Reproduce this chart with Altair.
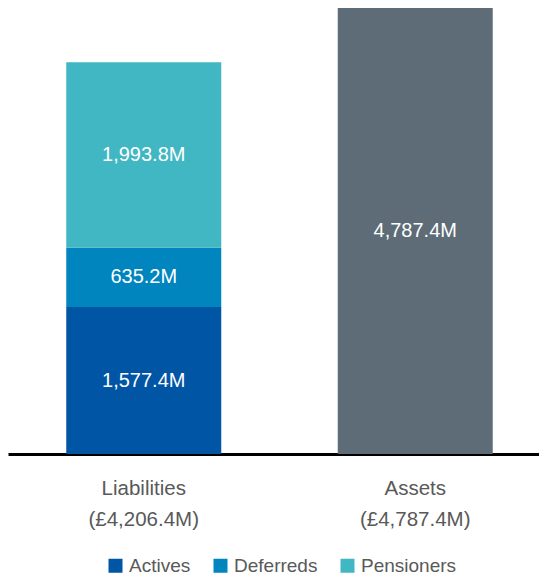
import altair as alt
import pandas as pd

categories = ["Liabilities", "Liabilities", "Liabilities", "Assets"]
series = ["Actives", "Deferreds", "Pensioners", "Assets"]
values = [1577.4, 635.2, 1993.8, 4787.4]
value_labels = ["1,577.4M", "635.2M", "1,993.8M", "4,787.4M"]
stack_order = [1, 2, 3, 1]

bar_names = ["Liabilities", "Assets"]
bar_totals = ["(£4,206.4M)", "(£4,787.4M)"]

legend_series = ["Actives", "Deferreds", "Pensioners"]
color_domain = ["Actives", "Deferreds", "Pensioners", "Assets"]
color_range = ["#0055A5", "#0085BF", "#40B7C2", "#5D6C76"]

total_map = dict(zip(bar_names, bar_totals))
df = pd.DataFrame({
    "category": categories,
    "series": series,
    "value": values,
    "label": value_labels,
    "order": stack_order,
})
df["cat_label"] = [c + "\n" + total_map[c] for c in df["category"]]
cat_sort = [c + "\n" + total_map[c] for c in bar_names]

FONT = "Liberation Sans"

xscale = alt.Scale(paddingInner=0.4291, paddingOuter=0.2146, range=[0, 543])

x_enc = alt.X(
    "cat_label:N",
    sort=cat_sort,
    scale=xscale,
    axis=alt.Axis(
        title=None,
        labelAngle=0,
        ticks=False,
        domainColor="#000000",
        domainWidth=3,
        labelColor="#595959",
        labelFont=FONT,
        labelFontSize=20.5,
        labelLineHeight=31,
        labelPadding=24,
        labelExpr="split(datum.label, '\\n')",
    ),
)

base = alt.Chart(df).transform_stack(
    stack="value",
    groupby=["category"],
    as_=["y0", "y1"],
    sort=[alt.SortField("order", order="ascending")],
).transform_calculate(mid="(datum.y0 + datum.y1) / 2")

yscale = alt.Scale(domain=[0, 4787.4], nice=False, zero=True)

bars = base.mark_bar().encode(
    x=x_enc,
    y=alt.Y("y0:Q", scale=yscale, axis=None),
    y2="y1:Q",
    color=alt.Color(
        "series:N",
        scale=alt.Scale(domain=color_domain, range=color_range),
        legend=alt.Legend(
            title=None,
            values=legend_series,
            orient="none",
            direction="horizontal",
            legendX=98,
            legendY=548,
            symbolType="square",
            symbolSize=196,
            symbolStrokeWidth=0,
            symbolOpacity=1,
            labelFont=FONT,
            labelFontSize=19,
            labelColor="#595959",
            labelOffset=4,
            columnPadding=20,
            padding=0,
        ),
    ),
)

texts = base.mark_text(
    color="#FFFFFF", font=FONT, fontSize=20, baseline="middle", align="center"
).encode(
    x=alt.X("cat_label:N", sort=cat_sort, scale=xscale),
    y=alt.Y("mid:Q", scale=yscale),
    text="label:N",
)

chart = (
    alt.layer(bars, texts)
    .properties(
        width=531,
        height=446,
        padding={"left": 0, "top": 0, "right": 0, "bottom": 122},
        autosize=alt.AutoSizeParams(type="none"),
    )
    .configure_view(stroke=None)
)

chart.save("out.html", embed_options={"renderer": "svg", "actions": False})
